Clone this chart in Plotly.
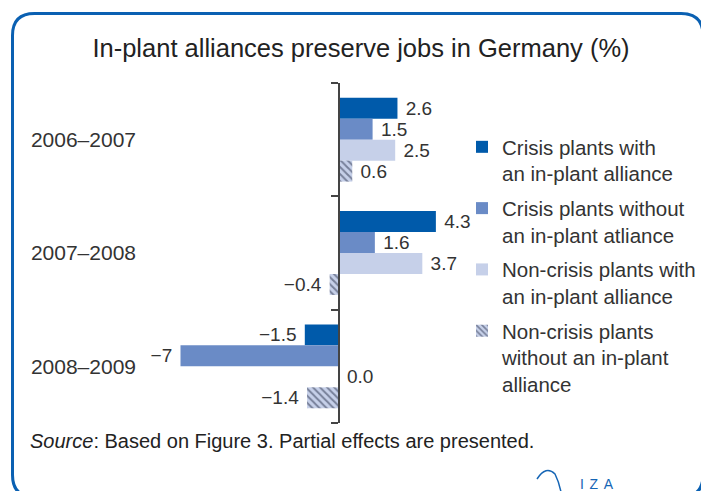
import plotly.graph_objects as go

categories = ["2006–2007", "2007–2008", "2008–2009"]
series_names = [
    "Crisis plants with<br>an in-plant alliance",
    "Crisis plants without<br>an in-plant atliance",
    "Non-crisis plants with<br>an in-plant alliance",
    "Non-crisis plants<br>without an in-plant<br>alliance",
]
crisis_with = [2.6, 4.3, -1.5]
crisis_without = [1.5, 1.6, -7]
noncrisis_with = [2.5, 3.7, 0.0]
noncrisis_without = [0.6, -0.4, -1.4]

W, H = 701, 491
L, R, T, B = 150, 470, 83, 423   # plot area in pixels
PXU = 22.6
ZERO_PX = 338.7
xmin = (L - ZERO_PX) / PXU
xmax = (R - ZERO_PX) / PXU


def px(x):
    return (x - L) / (R - L)


def py(y):
    return (B - y) / (B - T)


def fmt(v):
    s = f"{abs(v):.1f}" if abs(v) != 7 else f"{abs(v):.0f}"
    if v < 0:
        return "\u2212" + s + "\u00a0"
    return "\u00a0" + s


colors = ["#005aaa", "#6a8bc6", "#c6d0e9", "#c6d0e9"]
values = [crisis_with, crisis_without, noncrisis_with, noncrisis_without]

fig = go.Figure()
for i, (name, vals) in enumerate(zip(series_names, values)):
    marker = dict(color=colors[i], line=dict(width=0))
    if i == 3:
        marker["pattern"] = dict(shape="\\", bgcolor="#c6d0e9", fgcolor="#28304a",
                                 size=5, solidity=0.4, fillmode="overlay")
    fig.add_trace(go.Bar(
        y=categories, x=vals, orientation="h", name=name, legendgroup=f"g{i}",
        marker=marker,
        text=[fmt(v) for v in vals], textposition="outside",
        textfont=dict(family="Liberation Sans, Arial, sans-serif", size=19, color="#333333"),
        cliponaxis=False, constraintext="none",
    ))

zero_pos = (0 - xmin) / (xmax - xmin)

fig.update_layout(
    width=W, height=H,
    margin=dict(l=L, r=W - R, t=T, b=H - B, pad=0, autoexpand=False),
    paper_bgcolor="white", plot_bgcolor="white",
    barmode="group", bargap=0.26, bargroupgap=0,
    title=dict(text="In-plant alliances preserve jobs in Germany (%)",
               x=361 / W, xanchor="center", y=1 - 48 / H, yanchor="middle",
               xref="container", yref="container",
               font=dict(family="Liberation Sans Narrow, Arial Narrow, Liberation Sans, sans-serif",
                         size=25.5, color="#222222")),
    xaxis=dict(range=[xmin, xmax], visible=False, fixedrange=True),
    yaxis=dict(type="category", range=[2.5, -0.5], showline=False, showgrid=False,
               zeroline=False, ticks="", ticklabelstandoff=13, fixedrange=True,
               tickfont=dict(family="Liberation Sans, Arial, sans-serif", size=21, color="#333333")),
    yaxis2=dict(overlaying="y", anchor="free", position=zero_pos, side="left",
                range=[2.5, -0.5], tickvals=[-0.5, 0.5, 1.5, 2.5], showticklabels=False,
                ticks="outside", ticklen=7, tickwidth=1.5, tickcolor="#444444",
                showline=True, linecolor="#444444", linewidth=1.5, fixedrange=True,
                showgrid=False, zeroline=False),
    legend=dict(x=px(462), y=py(127), xanchor="left", yanchor="top",
                font=dict(family="Liberation Sans, Arial, sans-serif", size=20.5, color="#333333"),
                tracegroupgap=5, itemwidth=30, bgcolor="rgba(0,0,0,0)",
                traceorder="grouped", valign="top"),
    showlegend=True,
)

# invisible helper trace so the zero-line axis is drawn
fig.add_trace(go.Scatter(x=[None], y=[None], yaxis="y2", showlegend=False, hoverinfo="skip"))

fig.add_annotation(
    text="<i>Source</i>: Based on Figure 3. Partial effects are presented.",
    xref="paper", yref="paper", x=px(28), y=py(441), xanchor="left", yanchor="middle",
    showarrow=False,
    font=dict(family="Liberation Sans Narrow, Arial Narrow, Liberation Sans, sans-serif",
              size=20, color="#222222"),
)
fig.add_annotation(
    text="I\u2009\u2009Z\u2009\u2009A", xref="paper", yref="paper", x=px(578), y=py(484), xanchor="left",
    yanchor="middle", showarrow=False,
    font=dict(family="Liberation Sans, Arial, sans-serif", size=14, color="#1565b5"),
)

# rounded frame
x0, y0, x1, y1, r = 12.5, 13.5, 703, 497, 22
path = (f"M {px(x0)},{py(y0 + r)} Q {px(x0)},{py(y0)} {px(x0 + r)},{py(y0)} "
        f"L {px(x1 - r)},{py(y0)} Q {px(x1)},{py(y0)} {px(x1)},{py(y0 + r)} "
        f"L {px(x1)},{py(y1 - r)} Q {px(x1)},{py(y1)} {px(x1 - r)},{py(y1)} "
        f"L {px(x0 + r)},{py(y1)} Q {px(x0)},{py(y1)} {px(x0)},{py(y1 - r)} Z")
fig.add_shape(type="path", path=path, xref="paper", yref="paper",
              line=dict(color="#0a60b2", width=3), layer="above")
# logo swirl
swirl = (f"M {px(537)},{py(479)} Q {px(546)},{py(465)} {px(555)},{py(474)} "
         f"Q {px(559)},{py(482)} {px(561)},{py(492)}")
fig.add_shape(type="path", path=swirl, xref="paper", yref="paper",
              line=dict(color="#1565b5", width=1.5), layer="above")

fig.write_html("out.html", config={"displayModeBar": False},
               post_script="document.body.style.margin='0px';")
